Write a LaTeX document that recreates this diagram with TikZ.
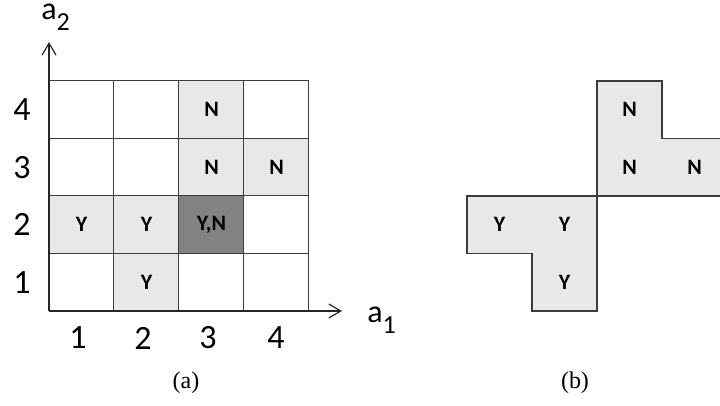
\documentclass[tikz,border=0pt]{standalone}
\usepackage{fontspec}
\setmainfont{Liberation Serif}
\newfontfamily\carlito{Carlito}
\usepackage{tikz}
\usetikzlibrary{positioning, arrows.meta}
\definecolor{gridline}{RGB}{60, 60, 60}
\definecolor{shadelight}{RGB}{232, 232, 232}
\definecolor{shadedark}{RGB}{130, 130, 130}
\newcommand{\axsub}[1]{\raisebox{-5.5pt}{\fontsize{13}{15}\selectfont #1}}
\tikzset{
    cell/.style={rectangle, draw=gridline, line width=0.5pt, minimum width=32.5pt, minimum height=28.75pt, inner sep=0pt, font=\carlito\bfseries\fontsize{11}{13}\selectfont},
    cell light/.style={cell, fill=shadelight},
    cell dark/.style={cell, fill=shadedark},
    mark text/.style={inner sep=0pt, font=\carlito\bfseries\fontsize{11}{13}\selectfont},
    tick text/.style={inner sep=0pt, font=\carlito\fontsize{17}{19}\selectfont},
    axis text/.style={inner sep=0pt, font=\carlito\fontsize{16}{18}\selectfont},
    caption text/.style={inner sep=0pt, font=\fontsize{12}{14}\selectfont},
    region/.style={draw=gridline, line width=0.8pt, fill=shadelight},
    axis arrow/.style={-{Straight Barb[length=6pt, width=7pt]}, line width=0.6pt, black!85},
}

\begin{document}
\begin{tikzpicture}[x=0.5pt, y=-0.5pt]
\useasboundingbox (0,0) rectangle (720,406);
\clip (0,0) rectangle (720,406);
% (a) grid
\node[cell] (c14) at (81.5,109.75) {};
\node[cell] (c24) at (146.5,109.75) {};
\node[cell light] (c34) at (211.5,109.75) {N};
\node[cell] (c44) at (276.5,109.75) {};
\node[cell] (c13) at (81.5,167.25) {};
\node[cell] (c23) at (146.5,167.25) {};
\node[cell light] (c33) at (211.5,167.25) {N};
\node[cell light] (c43) at (276.5,167.25) {N};
\node[cell light] (c12) at (81.5,224.75) {Y};
\node[cell light] (c22) at (146.5,224.75) {Y};
\node[cell dark] (c32) at (211.5,224.75) {Y,N};
\node[cell] (c42) at (276.5,224.75) {};
\node[cell] (c11) at (81.5,282.25) {};
\node[cell light] (c21) at (146.5,282.25) {Y};
\node[cell] (c31) at (211.5,282.25) {};
\node[cell] (c41) at (276.5,282.25) {};
% axes
\coordinate (origin) at (49,311);
\coordinate (ytip) at (49,42);
\coordinate (xtip) at (342,311);
\draw[axis arrow] (origin) -- (ytip);
\draw[axis arrow] (origin) -- (xtip);
\node[axis text, anchor=base west] (a2) at (41,20) {a\axsub{2}};
\node[axis text, anchor=base west] (a1) at (367,323) {a\axsub{1}};
\node[tick text] (r4) at (22,110) {4};
\node[tick text] (r3) at (22,167.25) {3};
\node[tick text] (r2) at (22,224.75) {2};
\node[tick text] (r1) at (22,282.25) {1};
\node[tick text] (k1) at (78,338) {1};
\node[tick text] (k2) at (143,338) {2};
\node[tick text] (k3) at (208,338) {3};
\node[tick text] (k4) at (276,338) {4};
\node[caption text] (capa) at (186,383) {(a)};
% (b) regions
\draw[region] (467,196) -- (597,196) -- (597,311) -- (532,311) -- (532,253.5) -- (467,253.5) -- cycle;
\draw[region] (597,196) -- (597,81) -- (662,81) -- (662,138.5) -- (740,138.5) -- (740,196) -- cycle;
\node[mark text] (y1) at (499.5,224.75) {Y};
\node[mark text] (y2) at (564.5,224.75) {Y};
\node[mark text] (y3) at (564.5,282.25) {Y};
\node[mark text] (n1) at (629.5,109.75) {N};
\node[mark text] (n2) at (629.5,167.25) {N};
\node[mark text] (n3) at (694.5,167.25) {N};
\node[caption text] (capb) at (575,383) {(b)};
\end{tikzpicture}
\end{document}
